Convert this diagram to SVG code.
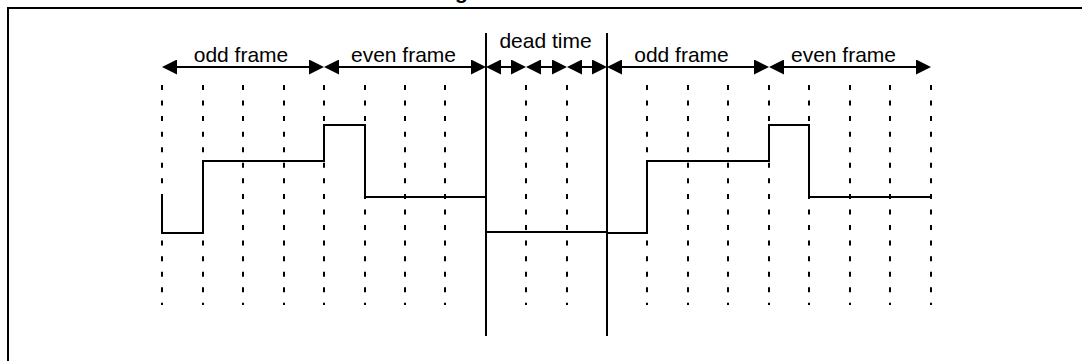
<svg xmlns="http://www.w3.org/2000/svg" width="1082" height="361" viewBox="0 0 1082 361">
<style>
.lbl{font-family:"Liberation Sans",Arial,sans-serif;font-size:21px;fill:#000;text-anchor:middle}
.ttl{font-family:"Liberation Sans",Arial,sans-serif;font-size:21px;font-weight:bold;fill:#000}
.dash{stroke:#000;stroke-width:2;stroke-dasharray:5 10.56;fill:none}
.solid{stroke:#000;stroke-width:2;fill:none}
.arr{stroke:#000;stroke-width:2;fill:none;marker-start:url(#ah);marker-end:url(#ah)}
.wave{stroke:#000;stroke-width:2;fill:none}
</style>
<defs>
<marker id="ah" viewBox="0 0 15 15" markerWidth="15" markerHeight="15" refX="5" refY="7.5" orient="auto-start-reverse" markerUnits="userSpaceOnUse">
<path d="M0,0 L15,7.5 L0,15 Z" fill="#000"/>
</marker>
</defs>
<rect width="1082" height="361" fill="#fff"/>
<g id="frame">
<path class="solid" d="M8,361 V8 H1082"/>
<text class="ttl" x="455" y="-1.5">g</text>
</g>
<g id="grid">
<line class="dash" x1="162" y1="85" x2="162" y2="305"/>
<line class="dash" x1="203" y1="85" x2="203" y2="305"/>
<line class="dash" x1="243" y1="85" x2="243" y2="305"/>
<line class="dash" x1="284" y1="85" x2="284" y2="305"/>
<line class="dash" x1="324" y1="85" x2="324" y2="305"/>
<line class="dash" x1="365" y1="85" x2="365" y2="305"/>
<line class="dash" x1="405" y1="85" x2="405" y2="305"/>
<line class="dash" x1="445" y1="85" x2="445" y2="305"/>
<line class="dash" x1="526" y1="85" x2="526" y2="305"/>
<line class="dash" x1="567" y1="85" x2="567" y2="305"/>
<line class="dash" x1="647" y1="85" x2="647" y2="305"/>
<line class="dash" x1="688" y1="85" x2="688" y2="305"/>
<line class="dash" x1="728" y1="85" x2="728" y2="305"/>
<line class="dash" x1="769" y1="85" x2="769" y2="305"/>
<line class="dash" x1="809" y1="85" x2="809" y2="305"/>
<line class="dash" x1="850" y1="85" x2="850" y2="305"/>
<line class="dash" x1="890" y1="85" x2="890" y2="305"/>
<line class="dash" x1="931" y1="85" x2="931" y2="305"/>
<line class="solid" x1="486" y1="33" x2="486" y2="336"/>
<line class="solid" x1="607" y1="33" x2="607" y2="336"/>
</g>
<g id="connectors">
<line class="arr" x1="172" y1="67" x2="314" y2="67"/>
<line class="arr" x1="334" y1="67" x2="476" y2="67"/>
<line class="arr" x1="496" y1="67" x2="516" y2="67"/>
<line class="arr" x1="536" y1="67" x2="557" y2="67"/>
<line class="arr" x1="577" y1="67" x2="597" y2="67"/>
<line class="arr" x1="617" y1="67" x2="759" y2="67"/>
<line class="arr" x1="779" y1="67" x2="921" y2="67"/>
</g>
<g id="labels">
<text class="lbl" x="241" y="62">odd frame</text>
<text class="lbl" x="403.5" y="62">even frame</text>
<text class="lbl" x="545.5" y="47.5">dead time</text>
<text class="lbl" x="681.5" y="62">odd frame</text>
<text class="lbl" x="843.5" y="62">even frame</text>
</g>
<g id="waveform">
<path class="wave" d="M162,194 V233 H203 V161 H324 V125 H365 V197 H486"/>
<path class="wave" d="M486,232 H607"/>
<path class="wave" d="M607,233 H647 V161 H769 V125 H809 V197 H931"/>
</g>
</svg>
